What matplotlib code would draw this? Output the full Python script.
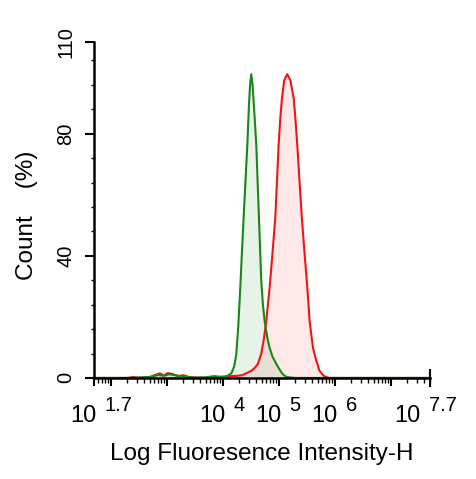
import numpy as np
import matplotlib
matplotlib.use("Agg")
import matplotlib.pyplot as plt
from matplotlib.ticker import FixedLocator, NullFormatter

plt.rcParams["font.family"] = "Liberation Sans"

# histogram outlines (log10 intensity, count %)
green_log = [1.70, 2.30, 2.50, 2.75, 2.85, 2.95, 3.05, 3.15, 3.25, 3.35, 3.50,
             3.70, 3.85, 3.95, 4.05, 4.10, 4.16, 4.21, 4.245, 4.28, 4.316,
             4.345, 4.375, 4.41, 4.441, 4.47, 4.49, 4.512, 4.535, 4.56, 4.602,
             4.63, 4.66, 4.69, 4.72, 4.75, 4.80, 4.84, 4.89, 4.93, 4.98, 5.03,
             5.07, 5.14, 5.30, 7.70]
green_count = [0, 0, 0.1, 0.4, 1.0, 0.7, 1.2, 0.9, 0.6, 0.4, 0.1,
               0.2, 0.6, 0.4, 0.5, 0.8, 1.6, 4.0, 7.9, 17, 29.6,
               41, 52.2, 65, 76.2, 89, 96, 99.5, 96, 89, 76.2,
               62, 47, 32, 24, 18.7, 13, 9.9, 7.0, 5.6, 3.9, 2.4,
               1.3, 0.3, 0, 0]

red_log = [1.70, 2.30, 2.40, 2.50, 2.70, 2.80, 2.88, 2.95, 3.02, 3.10, 3.20,
           3.30, 3.40, 3.55, 3.80, 4.00, 4.15, 4.27, 4.35, 4.42, 4.51, 4.57,
           4.63, 4.69, 4.74, 4.78, 4.84, 4.89, 4.94, 4.97, 5.00, 5.03, 5.06,
           5.10, 5.155, 5.21, 5.27, 5.30, 5.334, 5.375, 5.416, 5.464, 5.513,
           5.554, 5.613, 5.673, 5.732, 5.78, 5.82, 5.90, 7.70]
red_count = [0, 0, 0.3, 0.1, 0.3, 1.0, 1.5, 0.8, 1.6, 1.3, 0.6,
             0.9, 0.3, 0.1, 0.1, 0.2, 0.6, 0.7, 0.9, 1.5, 2.3, 3.2,
             4.6, 7.9, 13.1, 18.7, 29.6, 40.7, 52.2, 64, 76.2, 85, 91.6,
             97.5, 99.5, 97.5, 91.6, 85, 76.2, 64, 52.2, 40.7, 29.6,
             18.7, 9.9, 5.6, 2.3, 1.2, 0.5, 0, 0]

x_ticks_log = [1.7, 2, 3, 4, 5, 6, 7, 7.7]
x_label_exps = ["1.7", "4", "5", "6", "7.7"]
y_ticks = [0, 40, 80, 110]
y_minor = [8, 16, 24, 32, 48, 56, 64, 72, 88, 96, 104]

green_x = 10 ** np.array(green_log)
red_x = 10 ** np.array(red_log)

fig = plt.figure(figsize=(4.76, 4.79), dpi=100)
ax = fig.add_axes([0.197, 0.211, 0.706, 0.701])

ax.fill_between(red_x, red_count, color="#ff0000", alpha=0.09, lw=0)
ax.fill_between(green_x, green_count, color="#008000", alpha=0.09, lw=0)
ax.plot(red_x, red_count, color="#ee1515", lw=1.5)
ax.plot(green_x, green_count, color="#1a861a", lw=1.5)

ax.set_xscale("log")
ax.set_xlim(10 ** 1.7, 10 ** 7.7)
ax.set_ylim(0, 110)

ax.set_xticks([10 ** v for v in x_ticks_log])
ax.xaxis.set_major_formatter(NullFormatter())
ax.xaxis.set_minor_locator(FixedLocator(
    [s * 10 ** d for d in range(1, 8) for s in range(2, 10)
     if 10 ** 1.7 < s * 10 ** d < 10 ** 7.7]))
ax.xaxis.set_minor_formatter(NullFormatter())

# "10" + raised exponent, drawn as two texts under each labelled tick
trans = ax.get_xaxis_transform()
for e in x_label_exps:
    shift = -12 if e == "7.7" else 0
    ax.annotate("10", xy=(10 ** float(e), 0), xycoords=trans,
                xytext=(3 + shift, -44), textcoords="offset pixels",
                ha="right", va="baseline", fontsize=17)
    ax.annotate(e, xy=(10 ** float(e), 0), xycoords=trans,
                xytext=(11 + shift, -33), textcoords="offset pixels",
                ha="left", va="baseline", fontsize=14.5)

ax.set_yticks(y_ticks)
ax.set_yticklabels([str(v) for v in y_ticks], rotation=90, va="center", fontsize=14.5)
ax.yaxis.set_minor_locator(FixedLocator(y_minor))

for s in ["top", "right"]:
    ax.spines[s].set_visible(False)
for s in ["left", "bottom"]:
    ax.spines[s].set_linewidth(1.8)

ax.tick_params(axis="x", which="major", direction="out", length=6, width=1.5)
ax.tick_params(axis="x", which="minor", direction="out", length=3.5, width=1)
ax.tick_params(axis="y", which="major", direction="out", length=6.5, width=1.5, pad=7)
ax.tick_params(axis="y", which="minor", direction="out", length=2.5, width=1)

# last tick crosses the axis line
last = ax.xaxis.get_major_ticks()[-1]
last.tick1line.set_marker("|")
last.tick1line.set_markersize(13)

ax.set_xlabel("Log Fluoresence Intensity-H", fontsize=17.5)
ax.xaxis.set_label_coords(0.5, -0.195)
ax.set_ylabel("Count    (%)", fontsize=17.5)
ax.yaxis.set_label_coords(-0.165, 0.485)

fig.savefig("out.png", dpi=100)
